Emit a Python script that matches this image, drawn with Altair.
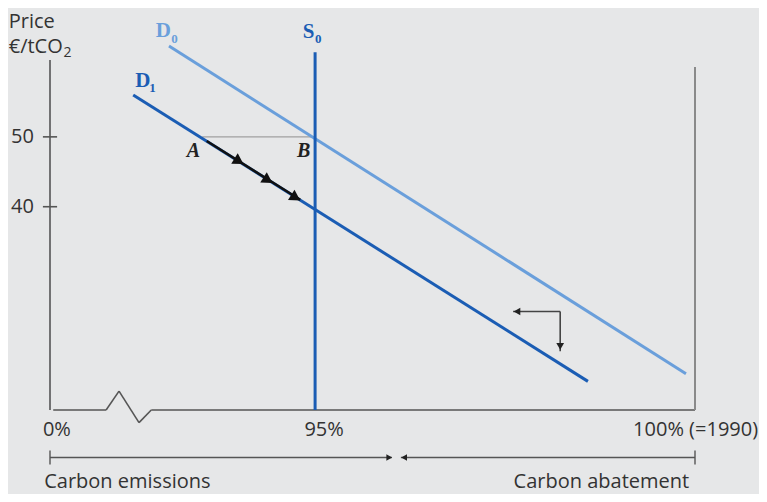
import altair as alt
import pandas as pd

# Conceptual units: x = position along the emissions axis (0..100), y = price in €/tCO2
# Demand / supply curves
d0_x = [18.45, 98.6]
d0_y = [63.0, 16.1]
d1_x = [12.9, 83.4]
d1_y = [56.0, 15.0]
s0_x = [41.1, 41.1]
s0_y = [10.9, 62.1]

# A-B guide and movement along D1
ab_x = [23.6, 41.1]
ab_y = [50.0, 50.0]
path_x = [24.3, 38.8]
path_y = [49.4, 41.0]
path_head_x = [29.3, 33.8, 38.1]
path_head_y = [46.5, 43.8, 41.3]

# Shift arrow (right side)
shift_x = [79.1, 71.8, 79.1, 79.1]
shift_y = [25.0, 25.0, 25.0, 19.3]
shift_head_x = [72.4, 79.1]
shift_head_y = [25.0, 20.0]
shift_head_shape = ["triangle-left", "triangle-down"]

# Axis frame (with the break on the x axis)
axis_x = [0.0, 0.0, 0.5, 8.7, 8.7, 10.7, 10.7, 13.8, 13.8, 15.7, 15.7, 100.0, 100.0, 100.0]
axis_y = [10.9, 61.0, 10.9, 10.9, 10.9, 13.6, 13.6, 9.1, 9.1, 10.9, 10.9, 10.9, 10.9, 60.0]
y_ticks = [50, 40]
y_tick_labels = ["50", "40"]

# Bottom emissions / abatement arrows
bottom_y = 4.1
bottom_seg_x = [0.0, 53.0, 54.4, 100.0]
bottom_end_x = [0.0, 100.0]
bottom_head_x = [52.6, 54.9]
bottom_head_shape = ["triangle-right", "triangle-left"]

# Texts
x_tick_text = ["0%", "95%", "100% (=1990)"]
x_tick_x = [-1.1, 42.5, 90.4]
x_tick_align = ["left", "center", "left"]
x_tick_y = 7.2

bottom_text = ["Carbon emissions", "Carbon abatement"]
bottom_text_x = [-0.9, 99.1]
bottom_text_align = ["left", "right"]
bottom_text_y = -0.2

title_text = ["Price", "€/tCO"]
title_x = [-6.4, -6.4]
title_y = [65.55, 62.0]
title_sub = ["2"]
title_sub_x = [2.1]
title_sub_y = [61.4]

curve_labels = ["D", "D", "S"]
curve_label_x = [16.4, 13.2, 39.2]
curve_label_y = [64.3, 57.1, 64.1]
curve_sub = ["0", "1", "0"]
curve_sub_x = [18.8, 15.4, 41.1]
curve_sub_y = [63.4, 56.4, 63.4]
curve_colors = ["#6a9fdb", "#1b5db4", "#1b5db4"]

point_labels = ["A", "B"]
point_label_x = [21.2, 38.3]
point_label_y = [47.1, 47.1]

LIGHT = "#6a9fdb"
DARK = "#1b5db4"
GREY = "#555555"
TXT = "#333333"

xs = alt.Scale(domain=[0, 100], nice=False, zero=False)
ys = alt.Scale(domain=[10.9, 60], nice=False, zero=False)


def segs(xv, yv):
    rows = []
    for i in range(0, len(xv), 2):
        rows.append({"x": xv[i], "y": yv[i], "x2": xv[i + 1], "y2": yv[i + 1]})
    return pd.DataFrame(rows)


def rule(df, color, width):
    return alt.Chart(df).mark_rule(color=color, strokeWidth=width, strokeCap="butt").encode(
        x=alt.X("x:Q", scale=xs, axis=None),
        y=alt.Y("y:Q", scale=ys, axis=None),
        x2="x2:Q",
        y2="y2:Q",
    )


def text(df, **kw):
    return alt.Chart(df).mark_text(**kw).encode(
        x=alt.X("x:Q", scale=xs, axis=None),
        y=alt.Y("y:Q", scale=ys, axis=None),
        text="t:N",
    )


layers = []

# frame
layers.append(rule(segs(axis_x, axis_y), GREY, 1.6))
ytick_df = pd.DataFrame({"x": [-1.1] * 2, "x2": [1.1] * 2, "y": y_ticks, "y2": y_ticks})
layers.append(rule(ytick_df, GREY, 1.6))
layers.append(rule(pd.DataFrame({"x": [100.0], "x2": [100.0], "y": [10.9], "y2": [60.0]}), "#8a8a8a", 2))

# bottom arrows
layers.append(rule(segs(bottom_seg_x, [bottom_y] * 4), GREY, 1.4))
layers.append(rule(pd.DataFrame({"x": bottom_end_x, "x2": bottom_end_x,
                                 "y": [bottom_y - 1] * 2, "y2": [bottom_y + 1] * 2}), GREY, 1.4))
bh = pd.DataFrame({"x": bottom_head_x, "y": [bottom_y] * 2, "s": bottom_head_shape})
layers.append(alt.Chart(bh).mark_point(filled=True, size=45, color="#222222", opacity=1).encode(
    x=alt.X("x:Q", scale=xs, axis=None), y=alt.Y("y:Q", scale=ys, axis=None),
    shape=alt.Shape("s:N", scale=None, legend=None)))

# guide line A-B
layers.append(rule(segs(ab_x, ab_y), "#a0a0a0", 1.4))

# curves
layers.append(rule(segs(d0_x, d0_y), LIGHT, 3))
layers.append(rule(segs(d1_x, d1_y), DARK, 3))
layers.append(rule(segs(s0_x, s0_y), DARK, 3))

# movement along D1
layers.append(rule(segs(path_x, path_y), "#111111", 2.5))
ph = pd.DataFrame({"x": path_head_x, "y": path_head_y})
layers.append(alt.Chart(ph).mark_point(shape="triangle-right", filled=True, size=150, angle=32,
                                        color="#111111", opacity=1).encode(
    x=alt.X("x:Q", scale=xs, axis=None), y=alt.Y("y:Q", scale=ys, axis=None)))

# shift arrow
layers.append(rule(segs(shift_x, shift_y), "#444444", 1.6))
sh = pd.DataFrame({"x": shift_head_x, "y": shift_head_y, "s": shift_head_shape})
layers.append(alt.Chart(sh).mark_point(filled=True, size=60, color="#222222", opacity=1).encode(
    x=alt.X("x:Q", scale=xs, axis=None), y=alt.Y("y:Q", scale=ys, axis=None),
    shape=alt.Shape("s:N", scale=None, legend=None)))

# texts
FONT = "Open Sans"
for t, xv, al in zip(x_tick_text, x_tick_x, x_tick_align):
    layers.append(text(pd.DataFrame({"t": [t], "x": [xv], "y": [x_tick_y]}),
                       align=al, baseline="alphabetic", font=FONT, fontSize=20, color=TXT))
for t, xv, al in zip(bottom_text, bottom_text_x, bottom_text_align):
    layers.append(text(pd.DataFrame({"t": [t], "x": [xv], "y": [bottom_text_y]}),
                       align=al, baseline="alphabetic", font=FONT, fontSize=20, color=TXT))
layers.append(text(pd.DataFrame({"t": y_tick_labels, "x": [-2.5] * 2, "y": y_ticks}),
                   align="right", baseline="middle", font=FONT, fontSize=20, color=TXT))
layers.append(text(pd.DataFrame({"t": title_text, "x": title_x, "y": title_y}),
                   align="left", baseline="alphabetic", font=FONT, fontSize=20, color=TXT))
layers.append(text(pd.DataFrame({"t": title_sub, "x": title_sub_x, "y": title_sub_y}),
                   align="left", baseline="alphabetic", font=FONT, fontSize=14, color=TXT))

for t, xv, yv, st, sx, sy, c in zip(curve_labels, curve_label_x, curve_label_y,
                                     curve_sub, curve_sub_x, curve_sub_y, curve_colors):
    layers.append(text(pd.DataFrame({"t": [t], "x": [xv], "y": [yv]}),
                       align="left", baseline="alphabetic", font="Liberation Serif",
                       fontWeight="bold", fontSize=21, color=c))
    layers.append(text(pd.DataFrame({"t": [st], "x": [sx], "y": [sy]}),
                       align="left", baseline="alphabetic", font="Liberation Serif",
                       fontWeight="bold", fontSize=13, color=c))

layers.append(text(pd.DataFrame({"t": point_labels, "x": point_label_x, "y": point_label_y}),
                   align="left", baseline="alphabetic", font="Liberation Serif",
                   fontWeight="bold", fontStyle="italic", fontSize=20, color="#222222"))

chart = alt.layer(*layers).properties(
    width=645,
    height=343,
    autosize=alt.AutoSizeParams(type="none"),
    padding={"left": 42, "top": 59, "right": 64, "bottom": 84},
    background="#e6e7e8",
).configure_view(stroke=None)

chart.save("out.html", embed_options={"renderer": "svg", "actions": False})
